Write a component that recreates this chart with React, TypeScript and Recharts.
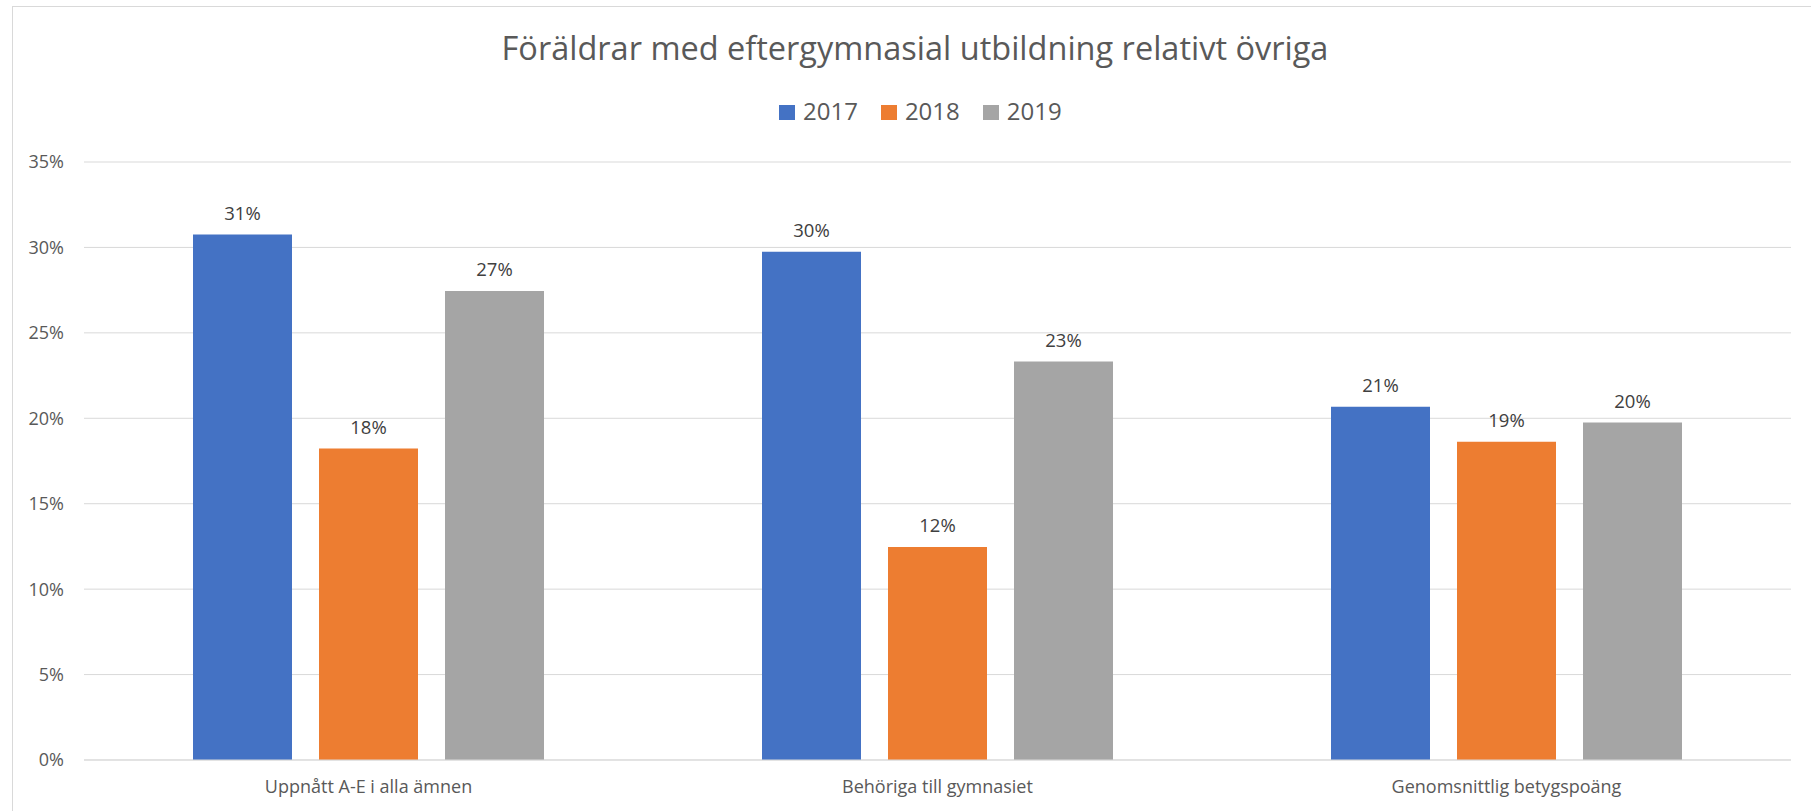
import React from 'react';
import { BarChart, Bar, XAxis, YAxis, CartesianGrid, LabelList, Legend } from 'recharts';

const categories = ['Uppnått A-E i alla ämnen', 'Behöriga till gymnasiet', 'Genomsnittlig betygspoäng'];
const values2017 = [30.75, 29.74, 20.67];
const values2018 = [18.23, 12.46, 18.62];
const values2019 = [27.45, 23.32, 19.75];
const yTicks = [0, 5, 10, 15, 20, 25, 30, 35];
const seriesNames = ['2017', '2018', '2019'];
const seriesColors = ['#4472C4', '#ED7D31', '#A5A5A5'];
const seriesValues = [values2017, values2018, values2019];
const title = 'Föräldrar med eftergymnasial utbildning relativt övriga';

const data = categories.map((c, i) => {
  const row: Record<string, string | number> = { category: c };
  seriesNames.forEach((s, k) => {
    row[s] = seriesValues[k][i];
  });
  return row;
});

const FONT = '"Open Sans", sans-serif';

const LegendContent = () => (
  <div style={{ display: 'flex', alignItems: 'center', fontFamily: FONT, fontSize: 24, color: '#595959', height: 30 }}>
    {seriesNames.map((s, k) => (
      <div key={s} style={{ display: 'flex', alignItems: 'center', marginRight: k < seriesNames.length - 1 ? 23 : 0 }}>
        <div style={{ width: 16, height: 15, background: seriesColors[k], marginRight: 8, marginTop: 2 }} />
        <span style={{ lineHeight: '30px' }}>{s}</span>
      </div>
    ))}
  </div>
);

export default function App() {
  return (
    <div style={{ position: 'absolute', left: 0, top: 0, width: 1811, height: 811, background: '#fff', overflow: 'hidden', fontFamily: FONT }}>
      <div style={{ position: 'absolute', left: 12, top: 6, width: 1811 - 12, height: 811 - 6, borderTop: '1px solid #D9D9D9', borderLeft: '1px solid #D9D9D9', boxSizing: 'border-box' }} />
      <div style={{ position: 'absolute', left: 915, top: 25, transform: 'translateX(-50%)', whiteSpace: 'nowrap', fontSize: 32.5, color: '#595959', lineHeight: 'normal', fontFamily: FONT }}>
        {title}
      </div>
      <div style={{ position: 'absolute', left: 0, top: 0 }}>
        <BarChart width={1811} height={811} data={data} margin={{ top: 162, right: 20, bottom: 0, left: 0 }} barSize={99} barGap={27}>
          <CartesianGrid vertical={false} stroke="#D9D9D9" strokeWidth={1} />
          <XAxis
            dataKey="category"
            height={51}
            axisLine={{ stroke: '#D9D9D9' }}
            tickLine={false}
            tickSize={0}
            tickMargin={20}
            tick={{ fontSize: 18, fill: '#595959', fontFamily: FONT }}
            interval={0}
          />
          <YAxis
            width={84}
            domain={[0, 35]}
            ticks={yTicks}
            axisLine={false}
            tickLine={false}
            tickSize={0}
            tickMargin={20}
            tickFormatter={(v: number) => `${v}%`}
            tick={{ fontSize: 18, fill: '#595959', fontFamily: FONT }}
          />
          <Legend verticalAlign="middle" content={<LegendContent />} wrapperStyle={{ top: 96, left: 779, width: 'auto' }} />
          {seriesNames.map((s, k) => (
            <Bar key={s} dataKey={s} name={s} fill={seriesColors[k]} isAnimationActive={false}>
              <LabelList
                dataKey={s}
                position="top"
                offset={15}
                formatter={(v: number) => `${Math.round(v)}%`}
                style={{ fontSize: 18.5, fill: '#404040', fontFamily: FONT }}
              />
            </Bar>
          ))}
        </BarChart>
      </div>
    </div>
  );
}
